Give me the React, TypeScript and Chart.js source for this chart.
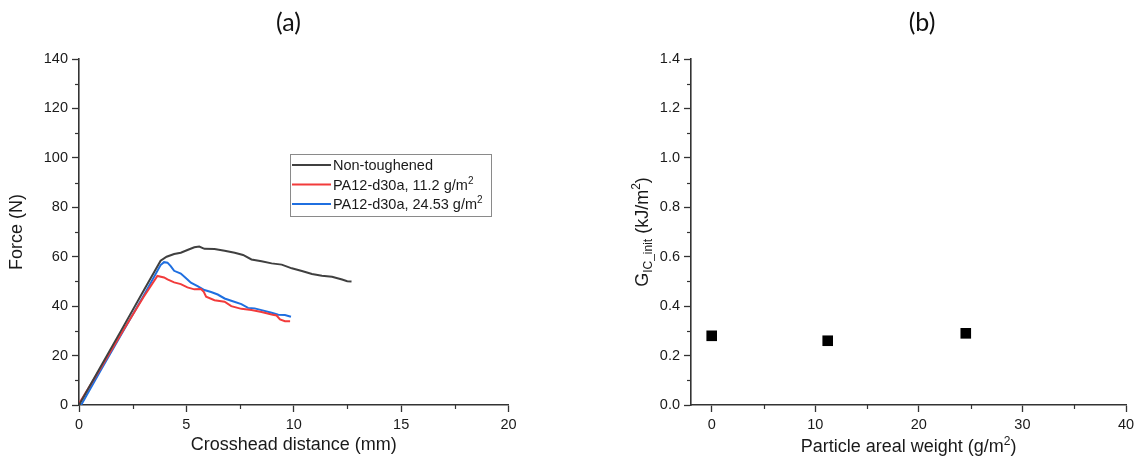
import React, { useEffect, useRef } from "react";
import { Chart, registerables } from "chart.js";

Chart.register(...registerables);

// ---------- data ----------
const distanceTicks = [0, 5, 10, 15, 20];
const distanceMinorTicks = [2.5, 7.5, 12.5, 17.5];
const forceTicks = [0, 20, 40, 60, 80, 100, 120, 140];
const forceMinorTicks = [10, 30, 50, 70, 90, 110, 130];

const weightTicks = [0, 10, 20, 30, 40];
const weightMinorTicks = [5, 15, 25, 35];
const gicTicks = [0, 0.2, 0.4, 0.6, 0.8, 1.0, 1.2, 1.4];
const gicMinorTicks = [0.1, 0.3, 0.5, 0.7, 0.9, 1.1, 1.3];

// label text, with the superscript part kept separately
const seriesLabels = ["Non-toughened", "PA12-d30a, 11.2 g/m", "PA12-d30a, 24.53 g/m"];
const seriesLabelSup = ["", "2", "2"];

const nonToughenedX = [0, 1, 2, 3, 3.8, 4.08, 4.43, 4.74, 5.05, 5.37, 5.6, 5.84, 6.31, 6.78, 7.25, 7.64, 8.03, 8.5, 8.97, 9.44, 9.91, 10.38, 10.85, 11.31, 11.78, 12.25, 12.49, 12.69];
const nonToughenedY = [0, 15.4, 30.7, 46.1, 58.4, 60, 61.1, 61.6, 62.7, 63.8, 64.1, 63.2, 63.1, 62.4, 61.6, 60.7, 58.9, 58.2, 57.3, 56.8, 55.3, 54.2, 53, 52.3, 51.9, 50.8, 50.1, 50];

const pa112X = [0, 1, 2, 3, 3.65, 3.96, 4.12, 4.43, 4.74, 5.05, 5.37, 5.68, 5.81, 5.92, 6.31, 6.78, 7.09, 7.56, 8.03, 8.5, 8.97, 9.2, 9.36, 9.59, 9.83];
const pa112Y = [0.5, 14.8, 29.3, 43.6, 52.2, 51.6, 50.8, 49.6, 48.9, 47.6, 46.8, 46.9, 45.8, 43.8, 42.4, 41.8, 40, 38.9, 38.4, 37.6, 36.6, 36.2, 34.6, 33.9, 33.9];

const pa2453X = [0.1, 1, 2, 3, 3.8, 3.96, 4.12, 4.27, 4.43, 4.74, 5.05, 5.21, 5.52, 5.84, 6.15, 6.46, 6.78, 7.09, 7.56, 7.87, 8.18, 8.5, 8.97, 9.28, 9.59, 9.87];
const pa2453Y = [0, 13.9, 29, 44.1, 56.6, 57.8, 57.6, 56.2, 54.3, 53.2, 50.8, 49.5, 48.1, 46.5, 45.7, 44.7, 43.1, 42.2, 40.8, 39.3, 39.1, 38.4, 37.3, 36.5, 36.4, 35.7];

const arealWeight = [0, 11.2, 24.53];
const gicInit = [0.28, 0.26, 0.29];

// ---------- styling ----------
const FONT = "'Liberation Sans', Arial, sans-serif";
const AXIS = "#333333";
const TEXT = "#1a1a1a";
const COLORS = ["#404040", "#f23b3b", "#1f6fe0"];

const pairs = (xs: number[], ys: number[]) => xs.map((x, i) => ({ x, y: ys[i] }));

type Part = { t: string; f: string; dy: number };

// draws rich text (baseline alphabetic) starting at x or centred on x
function drawParts(ctx: CanvasRenderingContext2D, parts: Part[], x: number, y: number, center: boolean) {
  let total = 0;
  for (const p of parts) {
    ctx.font = p.f;
    total += ctx.measureText(p.t).width;
  }
  let cx = center ? x - total / 2 : x;
  ctx.textAlign = "left";
  ctx.textBaseline = "alphabetic";
  for (const p of parts) {
    ctx.font = p.f;
    ctx.fillText(p.t, cx, y + p.dy);
    cx += ctx.measureText(p.t).width;
  }
}

const minorTicksPlugin = (minor: Record<string, number[]>) => ({
  id: "minorTicks",
  afterDraw(chart: any) {
    const ctx = chart.ctx;
    ctx.save();
    ctx.strokeStyle = AXIS;
    ctx.lineWidth = 1.2;
    for (const id of Object.keys(minor)) {
      const s = chart.scales[id];
      for (const v of minor[id]) {
        const p = Math.round(s.getPixelForValue(v)) + 0.5;
        ctx.beginPath();
        if (s.isHorizontal()) {
          ctx.moveTo(p, s.top);
          ctx.lineTo(p, s.top + 4);
        } else {
          ctx.moveTo(s.right, p);
          ctx.lineTo(s.right - 4, p);
        }
        ctx.stroke();
      }
    }
    ctx.restore();
  },
});

const panelTitlePlugin = (text: string, x: number) => ({
  id: "panelTitle",
  afterDraw(chart: any) {
    const ctx = chart.ctx;
    ctx.save();
    ctx.font = "25px Lato, 'Open Sans', sans-serif";
    ctx.fillStyle = "#111";
    ctx.textAlign = "center";
    ctx.textBaseline = "middle";
    ctx.fillText(text, x, 23);
    ctx.restore();
  },
});

const legendPlugin = {
  id: "customLegend",
  afterDraw(chart: any) {
    const ctx = chart.ctx;
    ctx.save();
    ctx.strokeStyle = "#8a8a8a";
    ctx.lineWidth = 1;
    ctx.strokeRect(290.5, 154.5, 201, 62);
    const rows = [165, 184.5, 204];
    chart.data.datasets.forEach((ds: any, i: number) => {
      const y = rows[i];
      ctx.strokeStyle = ds.borderColor;
      ctx.lineWidth = 2;
      ctx.beginPath();
      ctx.moveTo(292, y);
      ctx.lineTo(331, y);
      ctx.stroke();
      ctx.fillStyle = TEXT;
      const parts: Part[] = [{ t: ds.label, f: `14.5px ${FONT}`, dy: 0 }];
      if (seriesLabelSup[i]) parts.push({ t: seriesLabelSup[i], f: `10px ${FONT}`, dy: -6 });
      drawParts(ctx, parts, 333, y + 5, false);
    });
    ctx.restore();
  },
};

const gicTitlePlugin = {
  id: "gicTitle",
  afterDraw(chart: any) {
    const ctx = chart.ctx;
    ctx.save();
    ctx.fillStyle = TEXT;
    // y-axis title with subscript / superscript
    ctx.save();
    ctx.translate(71, 232);
    ctx.rotate(-Math.PI / 2);
    const big = `18px ${FONT}`;
    const small = `12px ${FONT}`;
    drawParts(
      ctx,
      [
        { t: "G", f: big, dy: 0 },
        { t: "IC_init", f: small, dy: 4 },
        { t: " (kJ/m", f: big, dy: 0 },
        { t: "2", f: small, dy: -7.5 },
        { t: ")", f: big, dy: 0 },
      ],
      0,
      6.5,
      true
    );
    ctx.restore();
    // x-axis title with superscript
    const xs = chart.scales.x;
    drawParts(
      ctx,
      [
        { t: "Particle areal weight (g/m", f: big, dy: 0 },
        { t: "2", f: small, dy: -7.5 },
        { t: ")", f: big, dy: 0 },
      ],
      (xs.left + xs.right) / 2,
      452,
      true
    );
    ctx.restore();
  },
};

const axisCommon = (ticks: number[], fmt: (v: number) => string) => ({
  type: "linear" as const,
  afterBuildTicks: (s: any) => {
    s.ticks = ticks.map((v) => ({ value: v }));
  },
  grid: {
    display: true,
    drawOnChartArea: false,
    drawTicks: true,
    tickLength: 7,
    tickWidth: 1.3,
    tickColor: AXIS,
  },
  border: { display: true, color: AXIS, width: 1.6 },
  ticks: {
    font: { family: FONT, size: 14.5 },
    color: TEXT,
    padding: 4,
    autoSkip: false,
    maxRotation: 0,
    callback: (v: any) => fmt(Number(v)),
  },
});

export default function App() {
  const leftRef = useRef<HTMLCanvasElement | null>(null);
  const rightRef = useRef<HTMLCanvasElement | null>(null);

  useEffect(() => {
    const H = 465;
    const top = 59;
    const bottomAxis = H - 405;

    const left = new Chart(leftRef.current as HTMLCanvasElement, {
      type: "scatter",
      data: {
        datasets: [
          { label: seriesLabels[0], data: pairs(nonToughenedX, nonToughenedY), borderColor: COLORS[0], backgroundColor: COLORS[0] },
          { label: seriesLabels[1], data: pairs(pa112X, pa112Y), borderColor: COLORS[1], backgroundColor: COLORS[1] },
          { label: seriesLabels[2], data: pairs(pa2453X, pa2453Y), borderColor: COLORS[2], backgroundColor: COLORS[2] },
        ].map((d) => ({ ...d, showLine: true, pointRadius: 0, borderWidth: 2, tension: 0 })),
      },
      options: {
        responsive: false,
        animation: false,
        layout: { padding: { left: 0, top, right: 570 - 508.5, bottom: 0 } },
        plugins: { legend: { display: false }, tooltip: { enabled: false } },
        scales: {
          x: {
            ...axisCommon(distanceTicks, (v) => String(v)),
            min: 0,
            max: 20,
            afterFit: (s: any) => {
              s.height = bottomAxis;
            },
            title: { display: true, text: "Crosshead distance (mm)", font: { family: FONT, size: 18 }, color: TEXT, padding: { top: 0, bottom: 9 } },
          },
          y: {
            ...axisCommon(forceTicks, (v) => String(v)),
            min: 0,
            max: 140,
            afterFit: (s: any) => {
              s.width = 79;
            },
            title: { display: true, text: "Force (N)", font: { family: FONT, size: 18 }, color: TEXT, padding: { top: 6, bottom: 0 } },
          },
        },
      } as any,
      plugins: [minorTicksPlugin({ x: distanceMinorTicks, y: forceMinorTicks }), panelTitlePlugin("(a)", 288.5), legendPlugin],
    });

    const right = new Chart(rightRef.current as HTMLCanvasElement, {
      type: "scatter",
      data: {
        datasets: [
          {
            label: "GIC_init",
            data: pairs(arealWeight, gicInit),
            pointStyle: "rect",
            pointRadius: 7.5,
            pointHoverRadius: 7.5,
            backgroundColor: "#000",
            borderColor: "#000",
            borderWidth: 0,
          },
        ],
      },
      options: {
        responsive: false,
        animation: false,
        layout: { padding: { left: 0, top, right: 571 - 556, bottom: 0 } },
        plugins: { legend: { display: false }, tooltip: { enabled: false } },
        scales: {
          x: {
            ...axisCommon(weightTicks, (v) => String(v)),
            min: -2,
            max: 40,
            afterFit: (s: any) => {
              s.height = bottomAxis;
            },
            title: { display: false },
          },
          y: {
            ...axisCommon(gicTicks, (v) => v.toFixed(1)),
            min: 0,
            max: 1.4,
            afterFit: (s: any) => {
              s.width = 121;
            },
            title: { display: false },
          },
        },
      } as any,
      plugins: [minorTicksPlugin({ x: weightMinorTicks, y: gicMinorTicks }), panelTitlePlugin("(b)", 352), gicTitlePlugin],
    });

    return () => {
      left.destroy();
      right.destroy();
    };
  }, []);

  return (
    <div style={{ position: "absolute", left: 0, top: 0, width: 1141, height: 465, background: "#fff" }}>
      <canvas ref={leftRef} width={570} height={465} style={{ position: "absolute", left: 0, top: 0, width: 570, height: 465 }} />
      <canvas ref={rightRef} width={571} height={465} style={{ position: "absolute", left: 570, top: 0, width: 571, height: 465 }} />
    </div>
  );
}
